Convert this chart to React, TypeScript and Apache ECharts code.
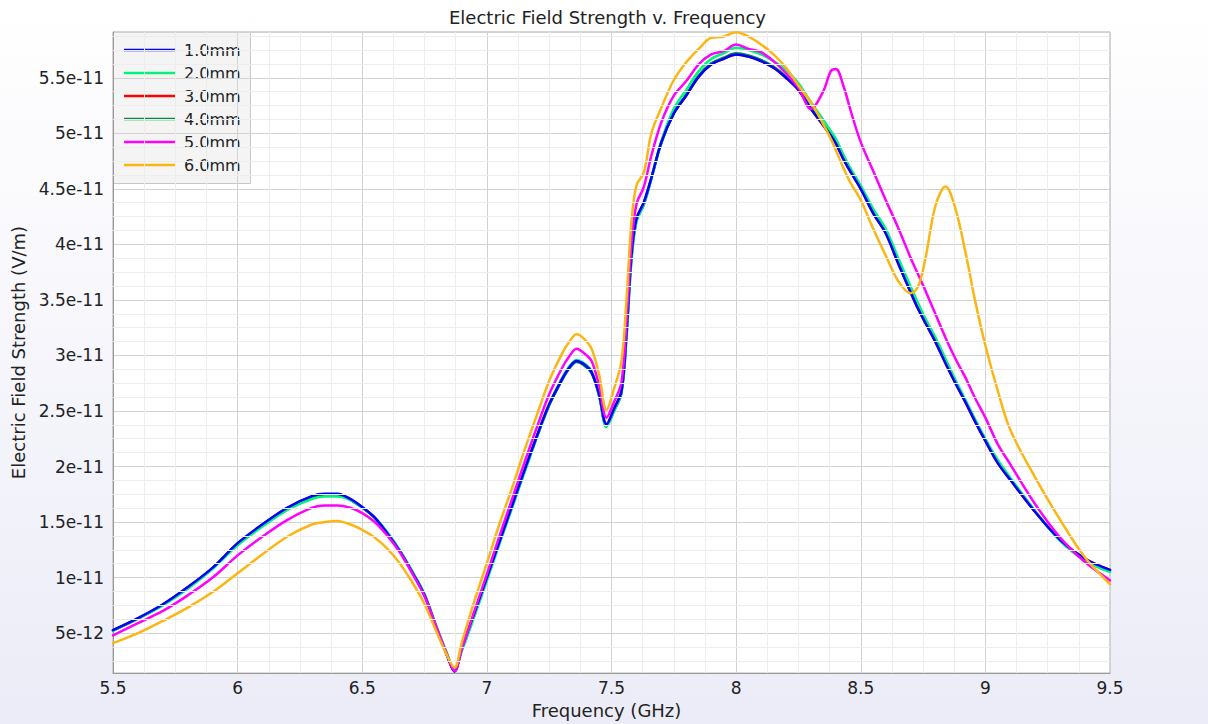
import React, { useEffect, useRef } from 'react';
import * as echarts from 'echarts';

const freqs = [
  5.5, 5.6, 5.7, 5.8, 5.9, 6.0, 6.1, 6.2, 6.3, 6.35,
  6.4, 6.45, 6.5, 6.55, 6.6, 6.65, 6.7, 6.75, 6.8, 6.84,
  6.87, 6.9, 6.95, 7.0, 7.05, 7.1, 7.15, 7.2, 7.25, 7.3,
  7.33, 7.36, 7.39, 7.42, 7.45, 7.48, 7.51, 7.54, 7.56, 7.58,
  7.6, 7.63, 7.66, 7.7, 7.75, 7.8, 7.85, 7.9, 7.95, 8.0,
  8.05, 8.1, 8.15, 8.2, 8.25, 8.3, 8.35, 8.38, 8.4, 8.43,
  8.46, 8.5, 8.55, 8.6, 8.65, 8.7, 8.73, 8.76, 8.8, 8.84,
  8.88, 8.92, 8.96, 9.0, 9.05, 9.1, 9.2, 9.3, 9.4, 9.5,
];

// values in units of 1e-12 V/m
const mm10 = [
  5.27, 6.35, 7.6, 9.15, 10.9, 13.1, 14.8, 16.3, 17.35, 17.55,
  17.55, 17.1, 16.35, 15.4, 14.0, 12.4, 10.5, 8.4, 5.3, 3.0,
  1.55, 3.7, 6.8, 10.0, 13.2, 16.4, 19.6, 22.7, 25.6, 27.8,
  28.9, 29.5, 29.2, 28.5, 26.5, 23.8, 25.2, 26.8, 32.0, 39.0,
  42.3, 43.8, 46.0, 49.2, 51.8, 53.4, 55.1, 56.2, 56.7, 57.1,
  56.9, 56.5, 55.9, 55.0, 53.9, 52.2, 50.7, 49.8, 49.1, 47.7,
  46.5, 45.0, 42.8, 41.0, 38.3, 35.7, 34.2, 32.9, 31.2, 29.3,
  27.5, 25.8, 24.0, 22.3, 20.3, 18.8, 15.9, 13.4, 11.7, 10.7,
];
const mm20 = [
  5.2, 6.3, 7.5, 9.0, 10.8, 12.9, 14.6, 16.1, 17.1, 17.3,
  17.3, 17.0, 16.3, 15.4, 14.1, 12.5, 10.6, 8.5, 5.5, 3.2,
  1.7, 3.4, 6.5, 9.7, 13.0, 16.2, 19.4, 22.6, 25.6, 27.9,
  29.0, 29.6, 29.3, 28.6, 26.4, 23.6, 25.0, 26.7, 31.5, 38.5,
  42.0, 43.6, 46.0, 49.3, 52.2, 53.9, 55.6, 56.7, 57.2, 57.7,
  57.5, 57.1, 56.5, 55.7, 54.5, 52.8, 51.2, 50.2, 49.5, 48.1,
  46.8, 45.3, 43.2, 41.4, 38.8, 36.2, 34.7, 33.3, 31.6, 29.7,
  27.8, 26.0, 24.2, 22.5, 20.6, 19.0, 16.0, 13.3, 11.5, 10.5,
];
const mm30 = [
  5.25, 6.3, 7.55, 9.1, 10.85, 13.05, 14.75, 16.25, 17.3, 17.5,
  17.5, 17.05, 16.3, 15.4, 14.0, 12.4, 10.5, 8.4, 5.3, 3.0,
  1.55, 3.7, 6.8, 10.0, 13.2, 16.4, 19.6, 22.7, 25.6, 27.8,
  28.9, 29.5, 29.2, 28.5, 26.5, 23.8, 25.2, 26.8, 32.0, 39.0,
  42.3, 43.8, 46.0, 49.2, 51.8, 53.4, 55.1, 56.2, 56.7, 57.1,
  56.9, 56.5, 55.9, 55.0, 53.9, 52.2, 50.7, 49.8, 49.1, 47.7,
  46.5, 45.0, 42.8, 41.0, 38.3, 35.7, 34.2, 32.9, 31.2, 29.3,
  27.5, 25.8, 24.0, 22.3, 20.3, 18.8, 15.9, 13.4, 11.7, 10.7,
];
const mm40 = [
  5.25, 6.3, 7.55, 9.1, 10.85, 13.05, 14.75, 16.25, 17.3, 17.5,
  17.5, 17.05, 16.3, 15.4, 14.05, 12.45, 10.55, 8.45, 5.35, 3.05,
  1.6, 3.65, 6.7, 9.9, 13.1, 16.3, 19.5, 22.6, 25.5, 27.7,
  28.8, 29.4, 29.1, 28.4, 26.4, 23.6, 25.0, 26.6, 31.7, 38.7,
  42.1, 43.6, 45.9, 49.1, 51.8, 53.5, 55.2, 56.3, 56.8, 57.2,
  57.0, 56.6, 56.0, 55.1, 54.0, 52.3, 50.8, 49.9, 49.2, 47.8,
  46.6, 45.1, 42.9, 41.1, 38.4, 35.8, 34.3, 33.0, 31.3, 29.4,
  27.6, 25.9, 24.1, 22.4, 20.4, 18.9, 15.95, 13.35, 11.6, 10.6,
];
const mm50 = [
  4.8, 5.9, 7.0, 8.4, 10.0, 12.0, 13.7, 15.2, 16.3, 16.5,
  16.5, 16.3, 15.8, 15.0, 13.8, 12.3, 10.4, 8.3, 5.4, 3.1,
  1.6, 3.6, 7.0, 10.3, 13.7, 17.0, 20.3, 23.5, 26.5, 28.8,
  29.9, 30.6, 30.2, 29.5, 27.3, 24.4, 25.8, 27.6, 33.0, 40.0,
  43.6, 45.2, 48.0, 51.0, 53.4, 54.7, 56.2, 57.1, 57.4, 58.0,
  57.6, 57.3, 56.5, 55.4, 54.1, 52.2, 53.8, 55.6, 55.8, 54.3,
  52.0, 49.2, 46.6, 44.0, 41.5, 38.8, 37.3, 35.8, 33.7, 31.6,
  29.7, 28.0, 26.1, 24.4, 22.0, 20.2, 16.6, 13.6, 11.4, 9.75,
];
const mm60 = [
  4.1, 5.0, 6.1, 7.3, 8.7, 10.4, 12.1, 13.7, 14.8, 15.0,
  15.1, 14.8, 14.3, 13.6, 12.6, 11.3, 9.6, 7.6, 5.0, 3.0,
  1.9, 4.2, 7.9, 11.3, 14.8, 18.0, 21.4, 24.6, 27.7, 30.1,
  31.2, 31.9, 31.5, 30.6, 28.3, 25.1, 27.0, 29.5, 35.0, 42.0,
  45.3, 46.5, 50.0, 52.3, 54.8, 56.4, 57.6, 58.6, 58.7, 59.1,
  58.7, 58.0, 57.1, 55.9, 54.3, 52.8, 50.8, 49.5, 48.5, 46.9,
  45.5, 44.0, 41.4, 39.0, 36.7, 35.6, 36.2, 38.8, 43.5, 45.2,
  43.2, 39.3, 34.8, 30.9, 26.8, 23.3, 19.0, 15.2, 11.8, 9.4,
];

const seriesNames = ['1.0mm', '2.0mm', '3.0mm', '4.0mm', '5.0mm', '6.0mm'];
const seriesColors = ['#0000ff', '#00f57a', '#ff0000', '#008c3a', '#ff00ff', '#fbb614'];
const seriesValues = [mm10, mm20, mm30, mm40, mm50, mm60];
// drawing order (bottom to top)
const drawOrder = [2, 3, 1, 0, 4, 5];

const yTickValues = [5, 10, 15, 20, 25, 30, 35, 40, 45, 50, 55];
const yTickLabels = ['5e-12', '1e-11', '1.5e-11', '2e-11', '2.5e-11', '3e-11', '3.5e-11', '4e-11', '4.5e-11', '5e-11', '5.5e-11'];
const Y_MIN = 1.4;
const Y_MAX = 59.12;

const FONT = 'DejaVu Sans';

export default function App() {
  const ref = useRef<HTMLDivElement>(null);
  useEffect(() => {
    document.body.style.margin = '0';
    const chart = echarts.init(ref.current!, null, { renderer: 'svg' });

    const minorY: number[] = [];
    for (let i = 0; i < yTickValues.length; i++) {
      const base = yTickValues[i];
      [-3.75, -2.5, -1.25].forEach((d) => {
        const v = base + d;
        if (v > Y_MIN && v < Y_MAX) minorY.push(v);
      });
    }
    const last = yTickValues[yTickValues.length - 1];
    [1.25, 2.5, 3.75].forEach((d) => {
      const v = last + d;
      if (v > Y_MIN && v < Y_MAX) minorY.push(v);
    });

    const lineSeries = drawOrder.map((idx) => ({
      name: seriesNames[idx],
      type: 'line',
      data: freqs.map((f, i) => [f, seriesValues[idx][i]]),
      showSymbol: false,
      smooth: 0.35,
      lineStyle: { width: 2.5, color: seriesColors[idx], cap: 'round', join: 'round' },
      itemStyle: { color: seriesColors[idx] },
      z: 3,
    }));

    // legend drawn with graphic elements
    const legendLeft = 113;
    const legendTop = 32;
    const rowStart = 50;
    const rowGap = 23;
    const legendChildren: any[] = [
      {
        type: 'rect',
        shape: { x: legendLeft + 0.5, y: legendTop + 0.5, width: 137, height: 151 },
        style: { fill: '#f4f4f4', stroke: '#c8c8c8', lineWidth: 1 },
      },
    ];
    seriesNames.forEach((n, i) => {
      const y = rowStart + i * rowGap;
      legendChildren.push({
        type: 'rect',
        shape: { x: 124, y: y - 1.25, width: 52, height: 2.5 },
        style: { fill: seriesColors[i] },
      });
      legendChildren.push({
        type: 'text',
        x: 184,
        y: y - 9,
        style: {
          text: n,
          fill: '#222',
          fontSize: 16,
          fontFamily: FONT,
          lineHeight: 18,
          textAlign: 'left',
          verticalAlign: 'top',
        },
      });
    });

    const option: any = {
      animation: false,
      textStyle: { fontFamily: FONT },
      title: {
        text: 'Electric Field Strength v. Frequency',
        left: 449,
        top: 8,
        padding: 0,
        textStyle: { fontSize: 18, fontWeight: 'normal', color: '#222', fontFamily: FONT },
      },
      graphic: [{ type: 'group', z: 100, children: legendChildren }],
      grid: {
        left: 113,
        right: 98,
        top: 32,
        bottom: 48,
        show: true,
        backgroundColor: '#ffffff',
        borderColor: '#aaaaaa',
        borderWidth: 1,
      },
      xAxis: {
        type: 'value',
        min: 5.5,
        max: 9.5,
        interval: 0.5,
        name: 'Frequency (GHz)',
        nameLocation: 'middle',
        nameGap: 26,
        nameTextStyle: { fontSize: 18, color: '#222', fontFamily: FONT, padding: [0, 10, 0, 0] },
        axisLine: { show: true, lineStyle: { color: '#999' } },
        axisTick: { show: false },
        axisLabel: { fontSize: 17, color: '#222', margin: 6, fontFamily: FONT },
        splitLine: { show: true, lineStyle: { color: '#d2d2d2', width: 1 } },
        minorTick: { show: false, splitNumber: 4 },
        minorSplitLine: { show: true, lineStyle: { color: '#ededed', width: 1 } },
      },
      yAxis: {
        type: 'value',
        min: Y_MIN,
        max: Y_MAX,
        splitNumber: 11,
        name: 'Electric Field Strength (V/m)',
        nameLocation: 'middle',
        nameGap: 81,
        nameTextStyle: { fontSize: 18, color: '#222', fontFamily: FONT },
        axisLine: { show: true, lineStyle: { color: '#999' } },
        axisTick: { show: false },
        axisLabel: {
          fontSize: 17,
          color: '#222',
          margin: 9,
          fontFamily: FONT,
          showMinLabel: false,
          showMaxLabel: false,
          formatter: (v: number) => {
            const k = yTickValues.findIndex((t) => Math.abs(t - v) < 1e-6);
            return k >= 0 ? yTickLabels[k] : '';
          },
        },
        splitLine: { show: true, lineStyle: { color: '#d2d2d2', width: 1 } },
      },
      series: [
        {
          name: '_minor',
          type: 'line',
          data: [],
          silent: true,
          z: 1,
          markLine: {
            silent: true,
            symbol: 'none',
            animation: false,
            label: { show: false },
            lineStyle: { color: '#ededed', width: 1, type: 'solid' },
            data: minorY.map((v) => ({ yAxis: v })),
          },
        },
        ...lineSeries,
      ],
    };
    chart.setOption(option);
    return () => chart.dispose();
  }, []);
  return (
    <div
      ref={ref}
      style={{ width: 1208, height: 724, background: 'linear-gradient(#ffffff 0%, #ececf8 100%)' }}
    />
  );
}
